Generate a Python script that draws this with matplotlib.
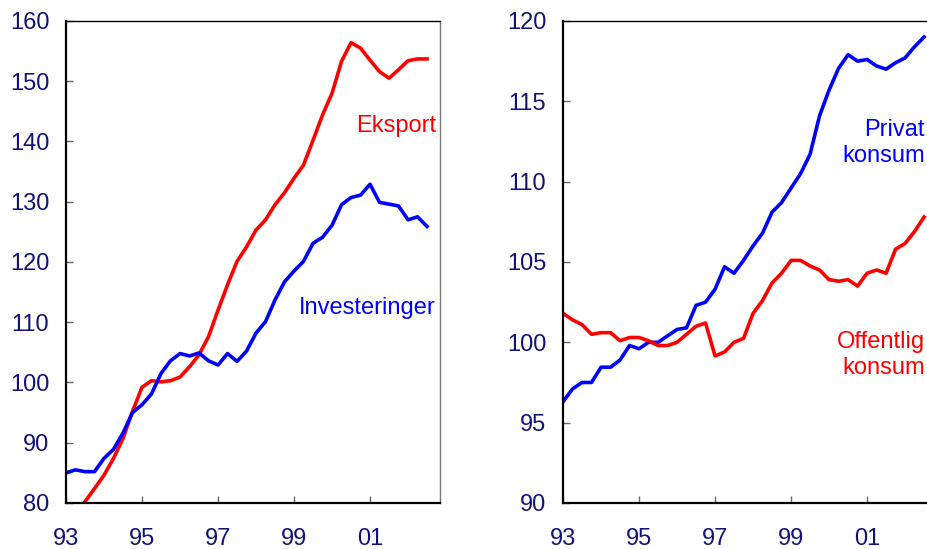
import numpy as np
import matplotlib.pyplot as plt

plt.rcParams['font.family'] = ['Liberation Sans', 'DejaVu Sans']

# Quarterly index values, 1993Q1 - 2002Q3
eksport = [76.5, 78.3, 80.2, 82.4, 84.6, 87.4, 90.7, 95.2, 99.2, 100.3,
           100.1, 100.3, 100.9, 102.6, 104.6, 107.6, 112.0, 116.2, 120.1, 122.5,
           125.3, 127.0, 129.5, 131.5, 133.9, 136.1, 140.2, 144.4, 148.0, 153.3,
           156.4, 155.5, 153.5, 151.6, 150.5, 151.9, 153.4, 153.7, 153.7]
investeringer = [85.0, 85.5, 85.2, 85.2, 87.4, 88.9, 91.6, 95.0, 96.3, 98.1,
                 101.5, 103.6, 104.8, 104.4, 104.9, 103.6, 102.9, 104.8, 103.5, 105.2,
                 108.2, 110.1, 113.7, 116.7, 118.5, 120.1, 123.1, 124.1, 126.1, 129.5,
                 130.7, 131.1, 132.9, 129.9, 129.6, 129.3, 127.0, 127.5, 125.9]
privat = [96.3, 97.1, 97.5, 97.5, 98.45, 98.45, 98.9, 99.8, 99.6, 100.0,
          100.0, 100.4, 100.8, 100.9, 102.3, 102.5, 103.3, 104.7, 104.3, 105.1,
          106.0, 106.8, 108.1, 108.7, 109.6, 110.5, 111.7, 114.1, 115.7, 117.05,
          117.9, 117.5, 117.6, 117.2, 117.0, 117.4, 117.7, 118.4, 119.0]
offentlig = [101.8, 101.4, 101.1, 100.5, 100.6, 100.6, 100.1, 100.3, 100.3, 100.1,
             99.8, 99.8, 100.0, 100.5, 101.0, 101.2, 99.15, 99.4, 100.0, 100.25,
             101.8, 102.6, 103.7, 104.3, 105.1, 105.1, 104.75, 104.5, 103.9, 103.8,
             103.9, 103.5, 104.3, 104.5, 104.3, 105.8, 106.15, 106.9, 107.8]

t = 1993 + np.arange(len(eksport)) * 0.25
tick_years = [1993, 1995, 1997, 1999, 2001]
tick_labels = ['93', '95', '97', '99', '01']

navy = '#12127a'
fs = 17
fig = plt.figure(figsize=(9.28, 5.49), dpi=100)
ax1 = fig.add_axes([0.0711, 0.0838, 0.403, 0.878])
ax2 = fig.add_axes([0.6067, 0.0838, 0.403, 0.878])


def style(ax, ylim, yticks):
    ax.set_xlim(1993, 2002.84)
    ax.set_ylim(*ylim)
    ax.set_yticks(yticks)
    ax.set_xticks(tick_years)
    ax.set_xticklabels(tick_labels)
    ax.tick_params(axis='both', direction='in', length=5, width=1, color='#666666',
                   labelcolor=navy, labelsize=fs)
    ax.tick_params(axis='x', pad=18)
    ax.tick_params(axis='y', pad=12)
    for s in ax.spines.values():
        s.set_linewidth(1.0)
        s.set_color('black')
    ax.spines['left'].set_linewidth(1.6)
    ax.spines['bottom'].set_linewidth(1.6)
    ax.spines['right'].set_color('#777777')


ax1.plot(t, eksport, color='#ff0000', lw=2.6)
ax1.plot(t, investeringer, color='#0000ff', lw=2.6)
style(ax1, (80, 160), range(80, 161, 10))
ax1.text(2002.73, 142.5, 'Eksport', color='#ff0000', fontsize=fs, ha='right', va='center')
ax1.text(2002.73, 112.4, 'Investeringer', color='#0000ff', fontsize=fs, ha='right', va='center')

ax2.plot(t, privat, color='#0000ff', lw=2.6)
ax2.plot(t, offentlig, color='#ff0000', lw=2.6)
style(ax2, (90, 120), range(90, 121, 5))
ax2.text(2002.52, 112.4, 'Privat\nkonsum', color='#0000ff', fontsize=fs, ha='right',
         va='center', multialignment='right', linespacing=1.25)
ax2.text(2002.52, 99.2, 'Offentlig\nkonsum', color='#ff0000', fontsize=fs, ha='right',
         va='center', multialignment='right', linespacing=1.25)

fig.savefig('out.png', dpi=100)
